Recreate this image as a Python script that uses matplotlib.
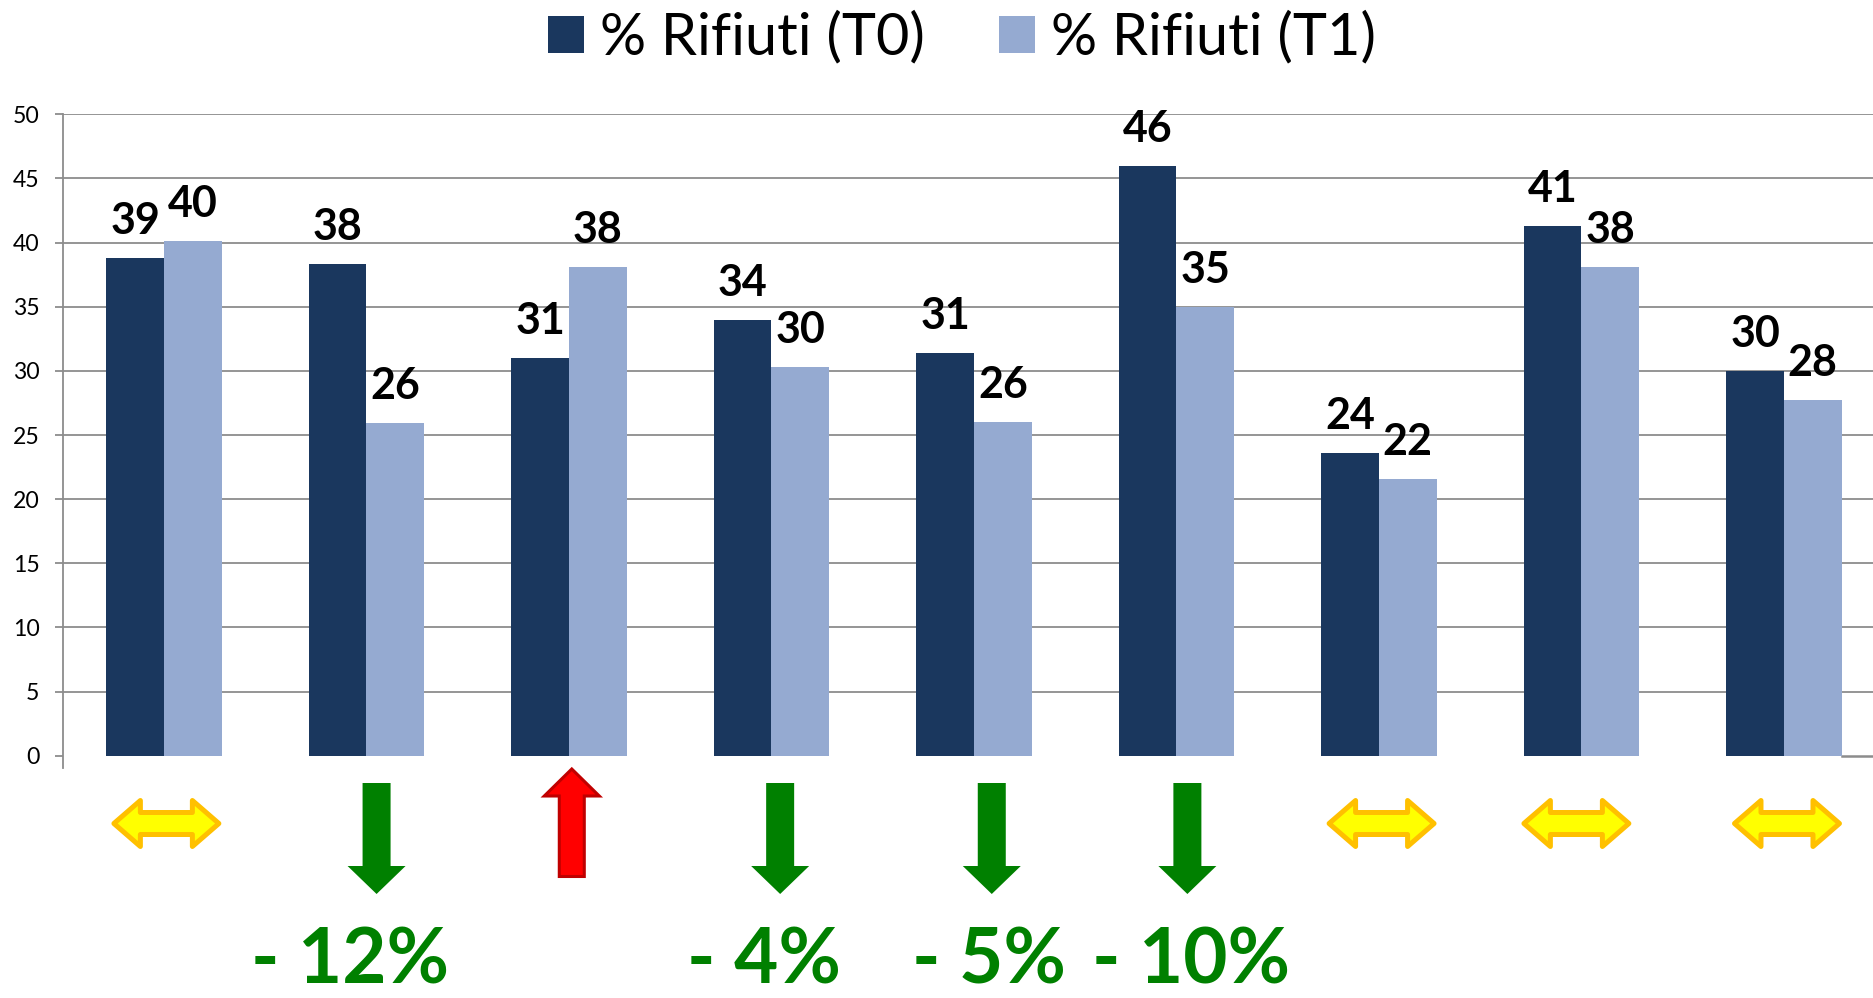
import matplotlib
matplotlib.use("Agg")
import matplotlib.pyplot as plt
import numpy as np
from matplotlib.patches import Polygon
from matplotlib.transforms import IdentityTransform
from matplotlib.font_manager import FontProperties

# ---- data ----
groups = list(range(9))
t0_values = [38.8, 38.3, 31.0, 34.0, 31.4, 46.0, 23.6, 41.3, 30.0]
t1_values = [40.1, 25.9, 38.1, 30.3, 26.0, 35.0, 21.6, 38.1, 27.7]
series_names = ["% Rifiuti (T0)", "% Rifiuti (T1)"]
trend = ["both", "down", "up", "down", "down", "down", "both", "both", "both"]
change_labels = ["", "- 12%", "", "- 4%", "- 5%", "- 10%", "", "", ""]
y_ticks = [0, 5, 10, 15, 20, 25, 30, 35, 40, 45, 50]

# ---- layout (annotation placement offsets, in category units) ----
arrow_dx = [0.012, 0.05, 0.014, 0.043, 0.088, 0.054, 0.013, -0.025, 0.015]
text_dx = [0, -0.083, 0, -0.039, 0.074, 0.071, 0, 0, 0]

W, H = 1874, 998
DARK = "#1A375E"
LIGHT = "#95AAD1"
GRID = "#8C8C8C"
FONT = ["Lato", "DejaVu Sans"]

fig = plt.figure(figsize=(W / 100, H / 100), dpi=100)
ax = fig.add_axes([62.7 / W, 1 - 755.7 / H, (1885.2 - 62.7) / W, (755.7 - 114.3) / H])

x = np.array(groups, dtype=float)
bw = 0.285
b0 = ax.bar(x - bw / 2, t0_values, bw, color=DARK, zorder=3, label=series_names[0])
b1 = ax.bar(x + bw / 2, t1_values, bw, color=LIGHT, zorder=3, label=series_names[1])

for xs, vals in ((x - bw / 2, t0_values), (x + bw / 2, t1_values)):
    for xi, v in zip(xs, vals):
        ax.annotate(f"{v:.0f}", (xi, v), xytext=(0, 17.3), textcoords="offset points",
                    ha="center", va="baseline", fontsize=31, fontweight="bold",
                    family=FONT, color="black", zorder=5)

ax.set_xlim(-0.5, len(groups) - 0.5)
ax.set_ylim(0, 50)
ax.set_yticks(y_ticks)
ax.set_xticks([])
for s in ["top", "right", "bottom", "left"]:
    ax.spines[s].set_visible(False)
for yt in y_ticks[1:]:
    ax.axhline(yt, color=GRID, lw=1.3, zorder=1)
# left axis line (extends a little below zero, as in the reference)
ax.plot([-0.5, -0.5], [-0.94, 50], color=GRID, lw=1.3, clip_on=False, zorder=2)
# visible part of the horizontal axis line after the last bar
ax.plot([x[-1] + bw, len(groups) - 0.5], [0, 0], color=GRID, lw=1.8, clip_on=False, zorder=2)
ax.tick_params(axis="y", direction="out", length=5.8, width=1.3, color=GRID, pad=11,
               labelsize=16.6, labelcolor="black")
for lab in ax.get_yticklabels():
    lab.set_family(FONT)

leg = ax.legend(handles=[b0, b1], labels=series_names, loc="center",
                bbox_to_anchor=(962 / W, 1 - 38 / H), bbox_transform=fig.transFigure,
                ncol=2, frameon=False, prop=FontProperties(family=FONT, size=41.5),
                handlelength=0.63, handleheight=0.63, handletextpad=0.28,
                columnspacing=1.28, borderpad=0, borderaxespad=0)

fig.canvas.draw()
ID = IdentityTransform()


def px(i, dx):
    return ax.transData.transform((i + dx, 0))[0]


def Y(ytop):
    return H - ytop


def down_arrow(cx):
    pts = [(cx - 14, 783), (cx + 14, 783), (cx + 14, 866), (cx + 29, 866), (cx, 894),
           (cx - 29, 866), (cx - 14, 866)]
    return Polygon([(a, Y(b)) for a, b in pts], closed=True, transform=ID,
                   facecolor="#008000", edgecolor="none")


def up_arrow(cx):
    pts = [(cx, 769), (cx + 27.5, 796), (cx + 12.5, 796), (cx + 12.5, 876.5),
           (cx - 12.5, 876.5), (cx - 12.5, 796), (cx - 27.5, 796)]
    return Polygon([(a, Y(b)) for a, b in pts], closed=True, transform=ID,
                   facecolor="#FF0000", edgecolor="#C00000", lw=2.2, joinstyle="miter")


def both_arrow(cx, cy=823.5):
    pts = [(cx - 52.5, cy), (cx - 26, cy - 23), (cx - 26, cy - 11), (cx + 26, cy - 11),
           (cx + 26, cy - 23), (cx + 52.5, cy), (cx + 26, cy + 23), (cx + 26, cy + 11),
           (cx - 26, cy + 11), (cx - 26, cy + 23)]
    return Polygon([(a, Y(b)) for a, b in pts], closed=True, transform=ID,
                   facecolor="#FFFF00", edgecolor="#FFC000", lw=3.6, joinstyle="round")


for i, kind in enumerate(trend):
    cx = px(i, arrow_dx[i])
    if kind == "down":
        fig.add_artist(down_arrow(cx))
    elif kind == "up":
        fig.add_artist(up_arrow(cx))
    else:
        fig.add_artist(both_arrow(cx))

for i, lab in enumerate(change_labels):
    if lab:
        cx = px(i, text_dx[i])
        fig.text(cx / W, Y(983) / H, lab, ha="center", va="baseline", fontsize=55,
                 fontweight="bold", family=FONT, color="#008000")

fig.savefig("out.png", dpi=100)
